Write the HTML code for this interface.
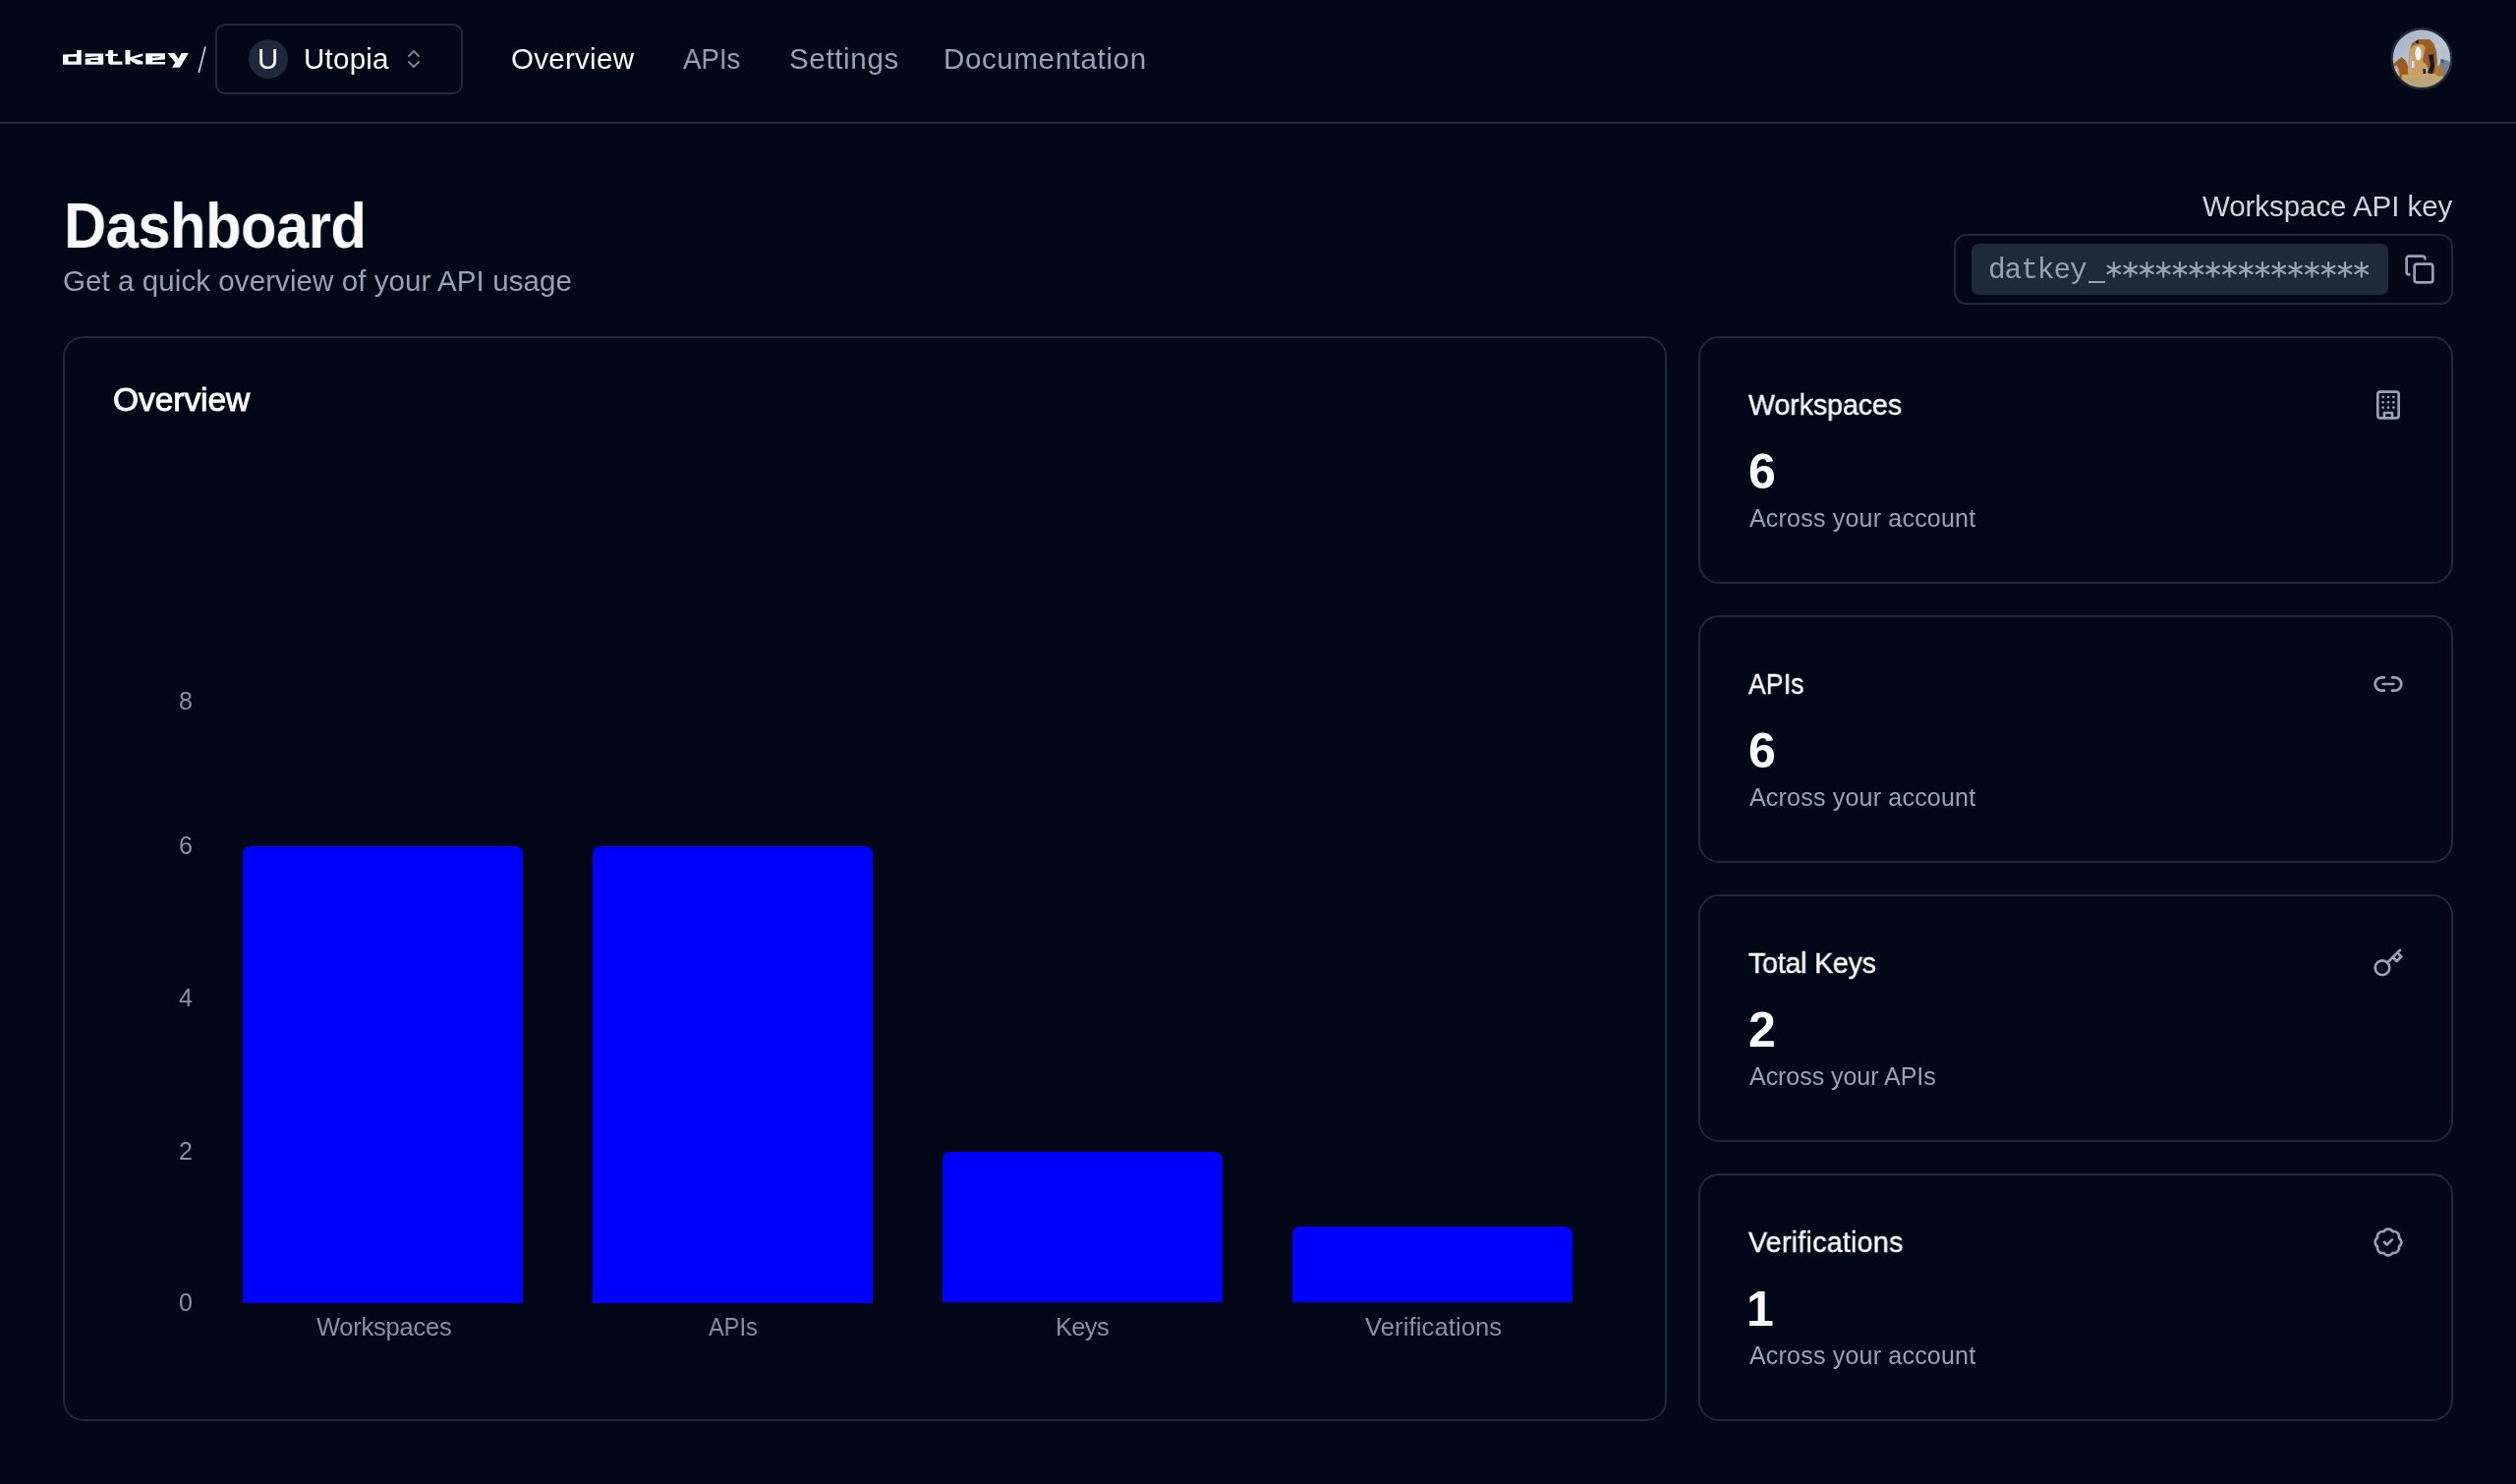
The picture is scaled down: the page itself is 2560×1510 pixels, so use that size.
<!DOCTYPE html>
<html><head><meta charset="utf-8"><title>Dashboard</title>
<style>
html,body{margin:0;padding:0;}
body{width:2560px;height:1510px;background:#020817;position:relative;overflow:hidden;font-family:'Liberation Sans', sans-serif;}
</style></head>
<body>
<div id="root" style="position:absolute;left:0;top:0;width:2560px;height:1510px;overflow:hidden;background:#020817;">
<svg style="position:absolute;left:0;top:0" width="260" height="100" viewBox="0 0 260 100">
<g fill="#f8fafc" fill-rule="evenodd">
<path d="M64 55.6 L78 54.9 L78 51.1 L82.8 51.1 L82.8 65.7 L64 65.7 Z M69.5 57.7 L77.8 57.7 L77.8 62.5 L69.5 62.5 Z"/>
<path d="M86.7 54.6 L105.2 54.6 L105.2 65.7 L86.7 65.7 Z M86.7 58.3 L99.8 57.3 L99.8 58.5 L86.7 59.7 Z M92.3 61.1 L99.8 61.1 L99.8 62.7 L92.3 62.7 Z"/>
<path d="M110.1 51.1 L115.1 51.1 L115.1 54.7 L119.8 54.7 L119.8 56.9 L115.1 56.9 L115.1 62.5 L124.5 62.5 L124.5 65.7 L112 65.7 L110.1 64.2 L110.1 56.9 L107.3 56.9 L107.3 54.7 L110.1 54.7 Z"/>
<path d="M127.5 51.1 L132.5 51.1 L132.5 58.2 L145.3 54.2 L145.3 56.9 L136.5 59.6 L145.3 62.6 L145.3 65.6 L139 65.6 L132.5 61.6 L132.5 65.6 L127.5 65.6 Z"/>
<path d="M148.3 54.2 L168 54.2 L168 60.6 L155.2 61.6 L155.2 62.9 L168 62.9 L168 65.6 L148.3 65.6 Z M155.2 57.4 L162.9 57.4 L162.9 58.0 L155.2 59.0 Z"/>
<path d="M170.4 53.9 L177.6 53.9 L181.6 59.8 L184.6 53.9 L191.8 53.9 L183 68.8 L175.1 68.8 L178.2 63.4 Z"/>
</g>
<path d="M209 47.5 L202.2 74" stroke="#cbd5e1" stroke-width="1.6" fill="none"/>
</svg>
<div style="position:absolute;left:219px;top:24px;width:252px;height:72px;border:2px solid #1e293b;border-radius:10px;box-sizing:border-box;"></div>
<div style="position:absolute;left:253px;top:40px;width:40px;height:40px;border-radius:50%;background:#1e293b;"></div>
<svg style="position:absolute;left:409px;top:48px" width="24" height="24" viewBox="0 0 24 24" fill="none" stroke="#f8fafc" stroke-opacity="0.5" stroke-width="2" stroke-linecap="round" stroke-linejoin="round"><path d="m7 15 5 5 5-5"/><path d="m7 9 5-5 5 5"/></svg>
<svg style="position:absolute;left:2432px;top:28px" width="64" height="64" viewBox="0 0 64 64">
<defs><clipPath id="avc"><circle cx="32" cy="31.8" r="30"/></clipPath>
<linearGradient id="sky" x1="0" y1="0" x2="1" y2="1"><stop offset="0" stop-color="#a2b2c8"/><stop offset="0.55" stop-color="#bcc4d0"/><stop offset="1" stop-color="#aab6c6"/></linearGradient></defs>
<g clip-path="url(#avc)">
<rect x="0" y="0" width="64" height="64" fill="url(#sky)"/>
<ellipse cx="56" cy="42" rx="7" ry="9" fill="#4a5568" opacity="0.6"/><ellipse cx="53" cy="34" rx="2" ry="2" fill="#3b4657" opacity="0.8"/>
<path d="M2 38 L11.5 30 L16 34 L18 40 L19 52 L16 60 L2 58 Z" fill="#9a5e22"/>
<path d="M4 44 L8 40 L10 48 L7 54 Z" fill="#c8a063"/>
<path d="M22 16 L28 12 L40 12 L44 16 L47 24 L48 36 L46 46 L40 52 L28 52 L20 44 L19 28 Z" fill="#9a5e22"/>
<path d="M19 24 L24 18 L32 17 L36 20 L34 28 L33 34 L37 38 L40 44 L38 50 L24 52 L18 46 Z" fill="#c8a063"/>
<path d="M39 28 L44 27 L45 40 L43 47 L38 46 L41 38 Z" fill="#0f1a2e"/>
<path d="M33.5 42 L36 42 L36 47 L33.5 47 Z" fill="#0f1a2e"/>
<path d="M26 14 L29 13 L29 16 L26 16 Z" fill="#0f1a2e"/>
<ellipse cx="28.5" cy="26.6" rx="3.2" ry="7" fill="#eef1f5"/>
<path d="M22 34 L24.5 34 L24.5 41 L22 41 Z" fill="#dfe6ef"/>
<path d="M12 48 L48 47 L56 52 L58 66 L10 66 Z" fill="#caa568"/>
<path d="M16 52 L44 50 L50 58 L18 62 Z" fill="#a9a48f" opacity="0.45"/><path d="M4 40 L7 38 L8 52 L5 54 Z" fill="#c9d3e0" opacity="0.7"/><path d="M20 28 L22 27 L22 44 L20 46 Z" fill="#a8b8cc" opacity="0.6"/>
<path d="M46 38 L52 40 L55 46 L50 50 L46 48 Z" fill="#b07a35"/>
</g>
<circle cx="32" cy="31.8" r="30.5" fill="none" stroke="#1e293b" stroke-width="2.4"/>
</svg>
<div style="position:absolute;left:0;top:124px;width:2560px;height:2px;background:#1e293b;"></div>
<div style="position:absolute;left:1988px;top:238px;width:508px;height:72px;box-sizing:border-box;border:2px solid #1e293b;border-radius:13px;"></div>
<div style="position:absolute;left:2006px;top:248px;width:424px;height:52px;background:#1e293b;border-radius:7px;"></div>
<svg style="position:absolute;left:2446px;top:258px" width="32" height="32" viewBox="0 0 24 24" fill="none" stroke="#94a3b8" stroke-width="2" stroke-linecap="round" stroke-linejoin="round"><rect width="14" height="14" x="8" y="8" rx="2" ry="2"/><path d="M4 16c-1.1 0-2-.9-2-2V4c0-1.1.9-2 2-2h10c1.1 0 2 .9 2 2"/></svg>
<div style="position:absolute;left:2125.3px;top:285.9px;width:16.9px;height:2.3px;background:#94a3b8;"></div>
<svg style="position:absolute;left:0;top:0" width="2560" height="320" viewBox="0 0 2560 320"><path d="M2150.80 267.20V281.60M2144.56 270.80L2157.04 278.00M2144.56 278.00L2157.04 270.80M2167.60 267.20V281.60M2161.36 270.80L2173.84 278.00M2161.36 278.00L2173.84 270.80M2184.40 267.20V281.60M2178.16 270.80L2190.64 278.00M2178.16 278.00L2190.64 270.80M2201.20 267.20V281.60M2194.96 270.80L2207.44 278.00M2194.96 278.00L2207.44 270.80M2218.00 267.20V281.60M2211.76 270.80L2224.24 278.00M2211.76 278.00L2224.24 270.80M2234.80 267.20V281.60M2228.56 270.80L2241.04 278.00M2228.56 278.00L2241.04 270.80M2251.60 267.20V281.60M2245.36 270.80L2257.84 278.00M2245.36 278.00L2257.84 270.80M2268.40 267.20V281.60M2262.16 270.80L2274.64 278.00M2262.16 278.00L2274.64 270.80M2285.20 267.20V281.60M2278.96 270.80L2291.44 278.00M2278.96 278.00L2291.44 270.80M2302.00 267.20V281.60M2295.76 270.80L2308.24 278.00M2295.76 278.00L2308.24 270.80M2318.80 267.20V281.60M2312.56 270.80L2325.04 278.00M2312.56 278.00L2325.04 270.80M2335.60 267.20V281.60M2329.36 270.80L2341.84 278.00M2329.36 278.00L2341.84 270.80M2352.40 267.20V281.60M2346.16 270.80L2358.64 278.00M2346.16 278.00L2358.64 270.80M2369.20 267.20V281.60M2362.96 270.80L2375.44 278.00M2362.96 278.00L2375.44 270.80M2386.00 267.20V281.60M2379.76 270.80L2392.24 278.00M2379.76 278.00L2392.24 270.80M2402.80 267.20V281.60M2396.56 270.80L2409.04 278.00M2396.56 278.00L2409.04 270.80" stroke="#94a3b8" stroke-width="2.2" stroke-linecap="round" fill="none"/></svg>
<div style="position:absolute;left:64px;top:342px;width:1632px;height:1104px;box-sizing:border-box;border:2px solid #1e293b;border-radius:21px;"></div>
<div style="position:absolute;left:247.3px;top:861px;width:284.3px;height:464.5px;background:#0000ff;border-radius:8px 8px 0 0;"></div>
<div style="position:absolute;left:603.4px;top:861px;width:284.3px;height:464.5px;background:#0000ff;border-radius:8px 8px 0 0;"></div>
<div style="position:absolute;left:959.4px;top:1171.6px;width:284.3px;height:153.9px;background:#0000ff;border-radius:8px 8px 0 0;"></div>
<div style="position:absolute;left:1315.4px;top:1248.2px;width:284.3px;height:77.3px;background:#0000ff;border-radius:8px 8px 0 0;"></div>
<div style="position:absolute;left:1728px;top:342px;width:768px;height:252px;box-sizing:border-box;border:2px solid #1e293b;border-radius:21px;"></div>
<svg style="position:absolute;left:2414px;top:396px" width="32" height="32" viewBox="0 0 24 24" fill="none" stroke="#94a3b8" stroke-width="2" stroke-linecap="round" stroke-linejoin="round"><rect width="16" height="20" x="4" y="2" rx="2" ry="2"/><path d="M9 22v-4h6v4"/><path d="M8 6h.01"/><path d="M16 6h.01"/><path d="M12 6h.01"/><path d="M12 10h.01"/><path d="M12 14h.01"/><path d="M16 10h.01"/><path d="M16 14h.01"/><path d="M8 10h.01"/><path d="M8 14h.01"/></svg>
<div style="position:absolute;left:1728px;top:626px;width:768px;height:252px;box-sizing:border-box;border:2px solid #1e293b;border-radius:21px;"></div>
<svg style="position:absolute;left:2414px;top:680px" width="32" height="32" viewBox="0 0 24 24" fill="none" stroke="#94a3b8" stroke-width="2" stroke-linecap="round" stroke-linejoin="round"><path d="M9 17H7A5 5 0 0 1 7 7h2"/><path d="M15 7h2a5 5 0 1 1 0 10h-2"/><line x1="8" x2="16" y1="12" y2="12"/></svg>
<div style="position:absolute;left:1728px;top:910px;width:768px;height:252px;box-sizing:border-box;border:2px solid #1e293b;border-radius:21px;"></div>
<svg style="position:absolute;left:2414px;top:964px" width="32" height="32" viewBox="0 0 24 24" fill="none" stroke="#94a3b8" stroke-width="2" stroke-linecap="round" stroke-linejoin="round"><circle cx="7.5" cy="15.5" r="5.5"/><path d="m21 2-9.6 9.6"/><path d="m15.5 7.5 3 3L22 7l-3-3"/></svg>
<div style="position:absolute;left:1728px;top:1194px;width:768px;height:252px;box-sizing:border-box;border:2px solid #1e293b;border-radius:21px;"></div>
<svg style="position:absolute;left:2414px;top:1248px" width="32" height="32" viewBox="0 0 24 24" fill="none" stroke="#94a3b8" stroke-width="2" stroke-linecap="round" stroke-linejoin="round"><path d="M3.85 8.62a4 4 0 0 1 4.78-4.77 4 4 0 0 1 6.74 0 4 4 0 0 1 4.78 4.78 4 4 0 0 1 0 6.74 4 4 0 0 1-4.77 4.78 4 4 0 0 1-6.75 0 4 4 0 0 1-4.78-4.77 4 4 0 0 1 0-6.76Z"/><path d="m9 12 2 2 4-4"/></svg>
<div id="utopia" style="position:absolute;left:308.90px;top:45.13px;font-size:29.5px;line-height:29.5px;font-weight:400;color:#f8fafc;letter-spacing:0.240px;white-space:nowrap;will-change:transform;font-family:'Liberation Sans', sans-serif;">Utopia</div>
<div id="U" style="position:absolute;left:262.40px;top:45.33px;font-size:29.5px;line-height:29.5px;font-weight:400;color:#f8fafc;letter-spacing:0.000px;white-space:nowrap;will-change:transform;font-family:'Liberation Sans', sans-serif;">U</div>
<div id="nav1" style="position:absolute;left:519.70px;top:45.23px;font-size:29.5px;line-height:29.5px;font-weight:400;color:#f8fafc;letter-spacing:0.285px;white-space:nowrap;will-change:transform;font-family:'Liberation Sans', sans-serif;">Overview</div>
<div id="nav2" style="position:absolute;left:695.00px;top:45.23px;font-size:29.5px;line-height:29.5px;font-weight:400;color:#94a3b8;letter-spacing:-0.071px;white-space:nowrap;will-change:transform;font-family:'Liberation Sans', sans-serif;transform:scaleX(0.94);transform-origin:0 0;">APIs</div>
<div id="nav3" style="position:absolute;left:802.60px;top:45.23px;font-size:29.5px;line-height:29.5px;font-weight:400;color:#94a3b8;letter-spacing:0.660px;white-space:nowrap;will-change:transform;font-family:'Liberation Sans', sans-serif;">Settings</div>
<div id="nav4" style="position:absolute;left:960.40px;top:45.23px;font-size:29.5px;line-height:29.5px;font-weight:400;color:#94a3b8;letter-spacing:0.636px;white-space:nowrap;will-change:transform;font-family:'Liberation Sans', sans-serif;">Documentation</div>
<div id="dash" style="position:absolute;left:65.30px;top:197.82px;font-size:64px;line-height:64px;font-weight:700;color:#f8fafc;letter-spacing:-0.611px;white-space:nowrap;will-change:transform;font-family:'Liberation Sans', sans-serif;transform:scaleX(0.935);transform-origin:0 0;">Dashboard</div>
<div id="sub" style="position:absolute;left:64.20px;top:271.03px;font-size:29.5px;line-height:29.5px;font-weight:400;color:#94a3b8;letter-spacing:0.080px;white-space:nowrap;will-change:transform;font-family:'Liberation Sans', sans-serif;">Get a quick overview of your API usage</div>
<div id="wak" style="position:absolute;left:2241.00px;top:195.03px;font-size:29.5px;line-height:29.5px;font-weight:400;color:#d1d5db;letter-spacing:-0.062px;white-space:nowrap;will-change:transform;font-family:'Liberation Sans', sans-serif;">Workspace API key</div>
<div id="mono" style="position:absolute;left:2023.40px;top:260.99px;font-size:29.5px;line-height:29.5px;font-weight:400;color:#94a3b8;letter-spacing:-1.080px;white-space:nowrap;will-change:transform;font-family:'Liberation Mono', monospace;">datkey</div>
<div id="ctitle" style="position:absolute;left:114.50px;top:390.44px;font-size:33.5px;line-height:33.5px;font-weight:400;color:#f8fafc;letter-spacing:-0.054px;white-space:nowrap;will-change:transform;font-family:'Liberation Sans', sans-serif;-webkit-text-stroke:0.9px #f8fafc;">Overview</div>
<div id="st0" style="position:absolute;left:1779.00px;top:396.93px;font-size:29.5px;line-height:29.5px;font-weight:400;color:#f8fafc;letter-spacing:-0.092px;white-space:nowrap;will-change:transform;font-family:'Liberation Sans', sans-serif;-webkit-text-stroke:0.4px #f8fafc;transform:scaleX(0.97);transform-origin:0 0;">Workspaces</div>
<div id="sn0" style="position:absolute;left:1779.00px;top:455.28px;font-size:50px;line-height:50px;font-weight:700;color:#f8fafc;letter-spacing:0.000px;white-space:nowrap;will-change:transform;font-family:'Liberation Sans', sans-serif;">6</div>
<div id="ss0" style="position:absolute;left:1779.60px;top:514.74px;font-size:25px;line-height:25px;font-weight:400;color:#94a3b8;letter-spacing:0.200px;white-space:nowrap;will-change:transform;font-family:'Liberation Sans', sans-serif;">Across your account</div>
<div id="st1" style="position:absolute;left:1779.00px;top:680.93px;font-size:29.5px;line-height:29.5px;font-weight:400;color:#f8fafc;letter-spacing:0.148px;white-space:nowrap;will-change:transform;font-family:'Liberation Sans', sans-serif;-webkit-text-stroke:0.4px #f8fafc;transform:scaleX(0.9);transform-origin:0 0;">APIs</div>
<div id="sn1" style="position:absolute;left:1779.00px;top:739.27px;font-size:50px;line-height:50px;font-weight:700;color:#f8fafc;letter-spacing:0.000px;white-space:nowrap;will-change:transform;font-family:'Liberation Sans', sans-serif;">6</div>
<div id="ss1" style="position:absolute;left:1779.60px;top:798.74px;font-size:25px;line-height:25px;font-weight:400;color:#94a3b8;letter-spacing:0.200px;white-space:nowrap;will-change:transform;font-family:'Liberation Sans', sans-serif;">Across your account</div>
<div id="st2" style="position:absolute;left:1779.00px;top:964.93px;font-size:29.5px;line-height:29.5px;font-weight:400;color:#f8fafc;letter-spacing:-0.229px;white-space:nowrap;will-change:transform;font-family:'Liberation Sans', sans-serif;-webkit-text-stroke:0.4px #f8fafc;transform:scaleX(0.97);transform-origin:0 0;">Total Keys</div>
<div id="sn2" style="position:absolute;left:1779.00px;top:1023.27px;font-size:50px;line-height:50px;font-weight:700;color:#f8fafc;letter-spacing:0.000px;white-space:nowrap;will-change:transform;font-family:'Liberation Sans', sans-serif;">2</div>
<div id="ss2" style="position:absolute;left:1779.60px;top:1082.74px;font-size:25px;line-height:25px;font-weight:400;color:#94a3b8;letter-spacing:-0.045px;white-space:nowrap;will-change:transform;font-family:'Liberation Sans', sans-serif;">Across your APIs</div>
<div id="st3" style="position:absolute;left:1779.00px;top:1248.93px;font-size:29.5px;line-height:29.5px;font-weight:400;color:#f8fafc;letter-spacing:0.258px;white-space:nowrap;will-change:transform;font-family:'Liberation Sans', sans-serif;-webkit-text-stroke:0.4px #f8fafc;transform:scaleX(0.97);transform-origin:0 0;">Verifications</div>
<div id="sn3" style="position:absolute;left:1777.00px;top:1307.27px;font-size:50px;line-height:50px;font-weight:700;color:#f8fafc;letter-spacing:0.000px;white-space:nowrap;will-change:transform;font-family:'Liberation Sans', sans-serif;">1</div>
<div id="ss3" style="position:absolute;left:1779.60px;top:1366.74px;font-size:25px;line-height:25px;font-weight:400;color:#94a3b8;letter-spacing:0.200px;white-space:nowrap;will-change:transform;font-family:'Liberation Sans', sans-serif;">Across your account</div>
<div id="y8" style="position:absolute;right:2364.50px;top:700.84px;font-size:25px;line-height:25px;font-weight:400;color:#8c9099;letter-spacing:0.000px;white-space:nowrap;will-change:transform;font-family:'Liberation Sans', sans-serif;">8</div>
<div id="y6" style="position:absolute;right:2364.50px;top:847.84px;font-size:25px;line-height:25px;font-weight:400;color:#8c9099;letter-spacing:0.000px;white-space:nowrap;will-change:transform;font-family:'Liberation Sans', sans-serif;">6</div>
<div id="y4" style="position:absolute;right:2364.50px;top:1002.84px;font-size:25px;line-height:25px;font-weight:400;color:#8c9099;letter-spacing:0.000px;white-space:nowrap;will-change:transform;font-family:'Liberation Sans', sans-serif;">4</div>
<div id="y2" style="position:absolute;right:2364.50px;top:1158.84px;font-size:25px;line-height:25px;font-weight:400;color:#8c9099;letter-spacing:0.000px;white-space:nowrap;will-change:transform;font-family:'Liberation Sans', sans-serif;">2</div>
<div id="y0" style="position:absolute;right:2364.50px;top:1312.84px;font-size:25px;line-height:25px;font-weight:400;color:#8c9099;letter-spacing:0.000px;white-space:nowrap;will-change:transform;font-family:'Liberation Sans', sans-serif;">0</div>
<div id="xWorkspaces" style="position:absolute;left:321.50px;top:1337.81px;font-size:25.5px;line-height:25.5px;font-weight:400;color:#8c9099;letter-spacing:-0.241px;white-space:nowrap;will-change:transform;font-family:'Liberation Sans', sans-serif;">Workspaces</div>
<div id="xAPIs" style="position:absolute;left:721.10px;top:1337.81px;font-size:25.5px;line-height:25.5px;font-weight:400;color:#8c9099;letter-spacing:0.071px;white-space:nowrap;will-change:transform;font-family:'Liberation Sans', sans-serif;transform:scaleX(0.92);transform-origin:0 0;">APIs</div>
<div id="xKeys" style="position:absolute;left:1074.00px;top:1337.81px;font-size:25.5px;line-height:25.5px;font-weight:400;color:#8c9099;letter-spacing:-0.667px;white-space:nowrap;will-change:transform;font-family:'Liberation Sans', sans-serif;">Keys</div>
<div id="xVerifications" style="position:absolute;left:1389.10px;top:1337.81px;font-size:25.5px;line-height:25.5px;font-weight:400;color:#8c9099;letter-spacing:0.136px;white-space:nowrap;will-change:transform;font-family:'Liberation Sans', sans-serif;">Verifications</div>
</div>
<script>
(function(){var w=window.innerWidth||2560;if(Math.abs(w-2560)>2){var r=document.getElementById('root');r.style.zoom=(w/2560);document.body.style.width=w+'px';document.body.style.height=Math.round(1510*w/2560)+'px';}})();
</script>
</body></html>
